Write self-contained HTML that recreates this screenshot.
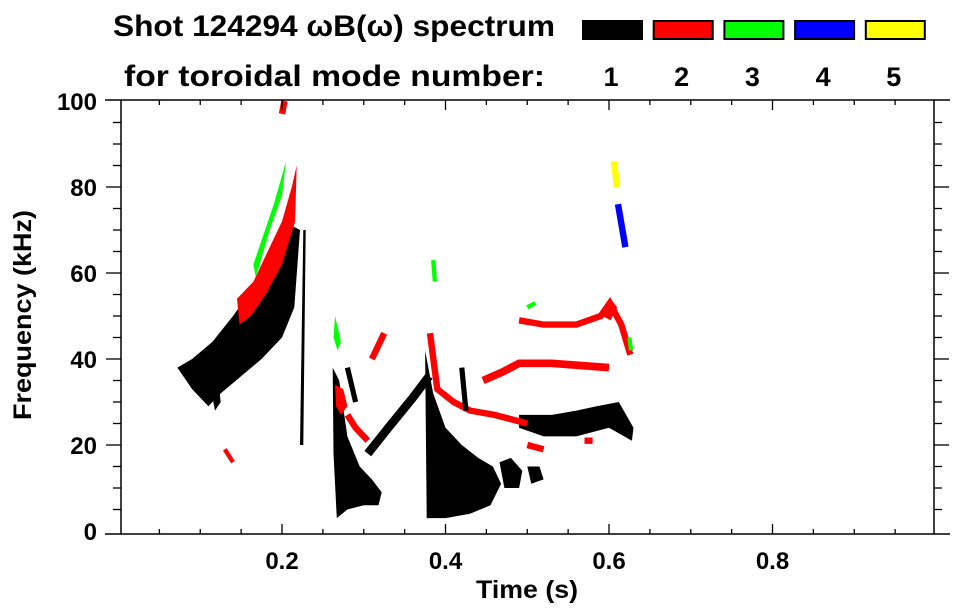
<!DOCTYPE html>
<html><head><meta charset="utf-8"><style>
html,body{margin:0;padding:0;background:#fff;}
svg{display:block;font-family:"Liberation Sans",Arial,sans-serif;font-weight:bold;}
</style></head><body>
<svg id="chart" width="963" height="615" viewBox="0 0 963 615" xmlns="http://www.w3.org/2000/svg">
<text x="113" y="36" font-size="30" textLength="442" lengthAdjust="spacingAndGlyphs">Shot 124294 ωB(ω) spectrum</text>
<text x="124" y="86" font-size="30" textLength="421" lengthAdjust="spacingAndGlyphs">for toroidal mode number:</text>
<g id="legend"></g>
<g id="marks"></g>
<g id="axes"></g>
<text transform="translate(31,315) rotate(-90)" text-anchor="middle" font-size="25" textLength="210" lengthAdjust="spacingAndGlyphs">Frequency (kHz)</text>
<text x="527" y="598" text-anchor="middle" font-size="25" textLength="102" lengthAdjust="spacingAndGlyphs">Time (s)</text>
</svg>
<script>
const modeLabels=["1","2","3","4","5"];
const modeColors=["#000000","#ff0000","#00ff00","#0000ff","#ffff00"];
const xTickValues=[0.2,0.4,0.6,0.8];
const xTickLabels=["0.2","0.4","0.6","0.8"];
const yTickValues=[0,20,40,60,80,100];
const yTickLabels=["0","20","40","60","80","100"];
// filled regions: mode index, polygon [t,f,...]
const regionModes=[0,0,0,0,0,0,0,1,1,1,2,2,0];
const regionPoints=[
 [0.072,38,0.09,33,0.11,29,0.125,32,0.15,36,0.175,40,0.2,45,0.215,52,0.222,70,0.212,71,0.195,66,0.17,58,0.14,50,0.115,44,0.09,40],
 [0.262,38,0.27,35,0.28,22,0.295,15,0.31,12,0.322,9,0.318,6,0.3,6,0.28,5,0.267,3,0.263,18],
 [0.375,42,0.385,32,0.4,24,0.42,20,0.44,17,0.458,15,0.468,11,0.455,6,0.43,4,0.4,3,0.377,3],
 [0.466,16,0.48,17,0.494,14,0.49,10,0.472,10],
 [0.5,15,0.515,15,0.52,12,0.505,11],
 [0.49,24,0.52,22,0.56,22,0.6,24,0.628,21,0.63,24,0.612,30,0.585,29,0.56,28,0.53,27,0.49,27],
 [0.108,38,0.118,28,0.125,30,0.12,38],
 [0.145,54,0.165,58,0.185,66,0.2,72,0.212,80,0.218,85,0.216,72,0.2,62,0.18,55,0.162,50,0.148,48],
 [0.265,34,0.275,33,0.28,29,0.272,27,0.266,29],
 [0.592,50,0.602,54,0.61,52,0.602,49],
 [0.165,62,0.19,76,0.205,86,0.2,78,0.185,70,0.168,59],
 [0.265,50,0.272,44,0.268,42,0.263,45],
 [0.222,20,0.226,70,0.229,70,0.226,20]
];
// streaks: mode index, polyline [t,f,...], thickness in kHz
const streakModes=[0,1,1,1,1,1,1,1,2,3,4,1,1,2,2,0,0];
const streakWidths=[2,1.5,1.5,1.5,1.8,1.5,1.5,1,1,1.5,1.5,1.5,1.5,1,1,1.2,1.2];
const streakPoints=[
 [0.305,18,0.33,24,0.36,31,0.38,36],
 [0.28,27,0.29,24,0.305,21],
 [0.31,40,0.325,46],
 [0.381,46,0.39,33,0.41,30,0.43,28,0.46,27,0.5,25],
 [0.446,35,0.47,37,0.49,39,0.53,39,0.6,38],
 [0.49,49,0.52,48,0.56,48,0.59,50,0.601,53,0.615,48,0.626,41],
 [0.5,20,0.52,19],
 [0.13,19,0.14,16],
 [0.385,63,0.387,58],
 [0.611,76,0.62,66],
 [0.606,86,0.61,80],
 [0.2,97,0.203,100],
 [0.57,21,0.58,21],
 [0.5,52,0.51,53],
 [0.625,45,0.627,42],
 [0.28,38,0.29,30],
 [0.42,38,0.425,28]
];
const X0=118.5,XS=817.5,Y0=531,YS=4.3;
const xs=t=>X0+t*XS, ys=f=>Y0-f*YS;
const NS="http://www.w3.org/2000/svg";
function mk(tag,attrs,parent){const e=document.createElementNS(NS,tag);for(const k in attrs)e.setAttribute(k,attrs[k]);parent.appendChild(e);return e;}
const marks=document.getElementById('marks');
regionPoints.forEach((p,i)=>{let s=[];for(let j=0;j<p.length;j+=2)s.push(xs(p[j]).toFixed(1)+","+ys(p[j+1]).toFixed(1));
 const e=mk('polygon',{points:s.join(' '),fill:modeColors[regionModes[i]]},marks);
 
 });
streakPoints.forEach((p,i)=>{let s=[];for(let j=0;j<p.length;j+=2)s.push(xs(p[j]).toFixed(1)+","+ys(p[j+1]).toFixed(1));
 const e=mk('polyline',{points:s.join(' '),fill:'none',stroke:modeColors[streakModes[i]],'stroke-width':(streakWidths[i]*YS).toFixed(1)},marks);
 
 });
const lg=document.getElementById('legend');
modeLabels.forEach((m,i)=>{const x=582+i*70.7;
 const r=mk('rect',{x:x+1,y:21,width:59,height:18,fill:modeColors[i],stroke:'#000','stroke-width':2},lg);
 
 
 const t=mk('text',{x:x+29,y:86,'text-anchor':'middle','font-size':27},lg);t.textContent=m;
 
 });
const ax=document.getElementById('axes');
const L=121,R=934,T=100,B=534;
mk('line',{x1:105,y1:T,x2:950,y2:T,stroke:'#000','stroke-width':1.5},ax);
mk('line',{x1:105,y1:B,x2:950,y2:B,stroke:'#000','stroke-width':1.5},ax);
mk('line',{x1:L,y1:T,x2:L,y2:B,stroke:'#000','stroke-width':1.5},ax);
mk('line',{x1:R,y1:T,x2:R,y2:B,stroke:'#000','stroke-width':1.5},ax);
for(let k=1;k<20;k++){const t=k*0.05,x=xs(t);const maj=k%4===0;const len=maj?10:5;
 mk('line',{x1:x,y1:B,x2:x,y2:B-len,stroke:'#000','stroke-width':1.3},ax);
 mk('line',{x1:x,y1:T,x2:x,y2:T+len,stroke:'#000','stroke-width':1.3},ax);}
for(let f=5;f<100;f+=5){const y=ys(f);const maj=f%20===0;const len=maj?15:8;
 mk('line',{x1:L,y1:y,x2:L-len,y2:y,stroke:'#000','stroke-width':1.3},ax);
 mk('line',{x1:R,y1:y,x2:R+len,y2:y,stroke:'#000','stroke-width':1.3},ax);}
xTickValues.forEach((v,i)=>{const t=mk('text',{x:xs(v),y:569,'text-anchor':'middle','font-size':24},ax);t.textContent=xTickLabels[i];
 
 });
yTickValues.forEach((v,i)=>{const t=mk('text',{x:97,y:ys(v)+9,'text-anchor':'end','font-size':24},ax);t.textContent=yTickLabels[i];
 
 });
</script>
</body></html>
